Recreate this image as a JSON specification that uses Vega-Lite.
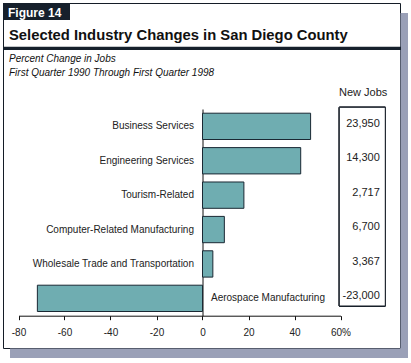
{
  "$schema": "https://vega.github.io/schema/vega-lite/v6.json",
  "width": 397,
  "height": 345,
  "autosize": {"type": "none"},
  "padding": {"left": 3, "top": 3, "right": 11, "bottom": 15},
  "background": "white",
  "config": {
    "font": "Liberation Sans",
    "view": {"stroke": "#141c26", "strokeWidth": 1, "fill": "white"},
    "locale": {"number": {"decimal": ".", "thousands": ",", "grouping": [3], "currency": ["$", ""], "minus": "-"}},
    "axis": {"labelFont": "Liberation Sans", "grid": false, "title": null}
  },
  "title": {
    "text": "Selected Industry Changes in San Diego County",
    "subtitle": ["Percent Change in Jobs", "First Quarter 1990 Through First Quarter 1998"],
    "anchor": "start",
    "frame": "group",
    "orient": "top",
    "offset": -74.5,
    "dx": 6,
    "font": "Liberation Sans",
    "fontSize": 14.8,
    "fontWeight": "bold",
    "color": "#111",
    "subtitleFont": "Liberation Sans",
    "subtitleFontSize": 10,
    "subtitleFontStyle": "italic",
    "subtitleColor": "#111",
    "subtitleLineHeight": 14,
    "subtitlePadding": 10.5
  },
  "data": {
    "values": [
      {"industry": "Business Services", "pct": 47, "jobs": 23950},
      {"industry": "Engineering Services", "pct": 42.7, "jobs": 14300},
      {"industry": "Tourism-Related", "pct": 18, "jobs": 2717},
      {"industry": "Computer-Related Manufacturing", "pct": 9.5, "jobs": 6700},
      {"industry": "Wholesale Trade and Transportation", "pct": 4.5, "jobs": 3367},
      {"industry": "Aerospace Manufacturing", "pct": -71.8, "jobs": -23000}
    ]
  },
  "layer": [
    {
      "data": {"values": [{"part": "shadow"}]},
      "mark": {"type": "rect", "color": "#9aa0b7"},
      "encoding": {
        "x": {"field": "part", "type": "nominal", "scale": {"range": [397.5, 405], "paddingInner": 0, "paddingOuter": 0}, "axis": null},
        "y": {"field": "part", "type": "nominal", "scale": {"range": [10, 355], "paddingInner": 0, "paddingOuter": 0}, "axis": null}
      }
    },
    {
      "data": {"values": [{"part": "shadow"}]},
      "mark": {"type": "rect", "color": "#9aa0b7"},
      "encoding": {
        "x": {"field": "part", "type": "nominal", "scale": {"range": [7, 405], "paddingInner": 0, "paddingOuter": 0}, "axis": null},
        "y": {"field": "part", "type": "nominal", "scale": {"range": [345.5, 355], "paddingInner": 0, "paddingOuter": 0}, "axis": null}
      }
    },
    {
      "data": {"values": [{"label": "Figure 14"}]},
      "encoding": {
        "x": {"field": "label", "type": "nominal", "scale": {"range": [0, 67], "paddingInner": 0, "paddingOuter": 0}, "axis": null},
        "y": {"field": "label", "type": "nominal", "scale": {"range": [0, 17], "paddingInner": 0, "paddingOuter": 0}, "axis": null}
      },
      "layer": [
        {"mark": {"type": "rect", "color": "#16202c"}},
        {
          "mark": {"type": "text", "color": "white", "fontWeight": "bold", "fontSize": 12, "align": "left", "baseline": "middle", "dx": 5, "dy": 1},
          "encoding": {"x": {"field": "label", "type": "nominal", "bandPosition": 0}, "text": {"field": "label"}}
        }
      ]
    },
    {
      "data": {"values": [{"part": "rule"}]},
      "mark": {"type": "rect", "color": "#16202c"},
      "encoding": {
        "x": {"field": "part", "type": "nominal", "scale": {"range": [0, 398], "paddingInner": 0, "paddingOuter": 0}, "axis": null},
        "y": {"field": "part", "type": "nominal", "scale": {"range": [43.7, 47], "paddingInner": 0, "paddingOuter": 0}, "axis": null}
      }
    },
    {
      "encoding": {
        "x": {
          "field": "pct", "type": "quantitative",
          "scale": {"domain": [-80, 60], "range": [15.5, 337.5], "nice": false},
          "axis": {
            "orient": "bottom", "offset": -32.3, "values": [-80, -60, -40, -20, 0, 20, 40, 60],
            "labelExpr": "datum.value === 60 ? '60%' : datum.label",
            "tickSize": 4, "tickColor": "#111", "domainColor": "#111",
            "labelFontSize": 10, "labelColor": "#222", "labelPadding": 7.5, "labelFlush": false
          }
        },
        "y": {
          "field": "industry", "type": "nominal", "sort": null,
          "scale": {"range": [106, 312.7], "paddingInner": 0.235, "paddingOuter": 0.122},
          "axis": {
            "orient": "left", "offset": -199.5, "ticks": false, "domainColor": "#111",
            "labelPadding": 9, "labelFontSize": 10, "labelColor": "#222", "labelLimit": 250,
            "labelExpr": "datum.value === 'Aerospace Manufacturing' ? '' : datum.label"
          }
        }
      },
      "layer": [
        {"mark": {"type": "bar", "fill": "#6fadb1", "stroke": "#1a2833", "strokeWidth": 1}},
        {
          "transform": [{"filter": "datum.pct < 0"}],
          "mark": {"type": "text", "fontSize": 10, "color": "#222", "align": "left", "baseline": "middle", "dx": 8.5},
          "encoding": {
            "x": {"datum": 0, "type": "quantitative"},
            "text": {"field": "industry"}
          }
        }
      ]
    },
    {
      "encoding": {
        "x": {
          "datum": "New Jobs", "type": "nominal",
          "scale": {"range": [336.3, 382.3], "paddingInner": 0, "paddingOuter": 0},
          "axis": {"orient": "top", "offset": -98, "domain": false, "ticks": false, "labelAngle": 0, "labelFontSize": 11, "labelColor": "#222", "labelPadding": 4, "labelAlign": "right", "labelOffset": 25}
        }
      },
      "layer": [
        {
          "mark": {"type": "rect", "fill": "white", "stroke": "#141c26", "strokeWidth": 1},
          "encoding": {
            "y": {"datum": "New Jobs", "type": "nominal", "scale": {"range": [104.3, 303], "paddingInner": 0, "paddingOuter": 0}, "axis": null}
          }
        },
        {
          "mark": {"type": "text", "fontSize": 11, "color": "#222", "align": "right", "baseline": "middle", "dx": -5.5, "dy": -2.5},
          "encoding": {
            "x": {"datum": "New Jobs", "type": "nominal", "bandPosition": 1},
            "y": {"field": "industry", "type": "nominal", "sort": null, "scale": {"range": [106, 312.7], "paddingInner": 0.235, "paddingOuter": 0.122}, "axis": null},
            "text": {"field": "jobs", "type": "quantitative", "format": ","}
          }
        }
      ],
      "resolve": {"scale": {"y": "independent"}}
    }
  ],
  "resolve": {"scale": {"x": "independent", "y": "independent"}, "axis": {"x": "independent", "y": "independent"}}
}
